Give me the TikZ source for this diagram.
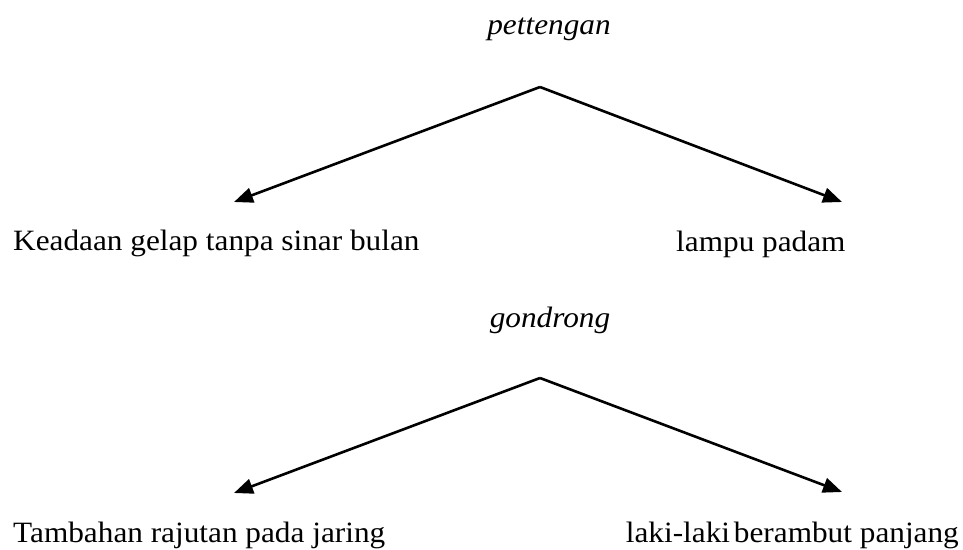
\documentclass[tikz,border=0pt]{standalone}
\usepackage{fontspec}
\setmainfont{Liberation Serif}[FakeStretch=1.06]
\usetikzlibrary{arrows.meta}
\tikzset{
  x=1pt, y=1pt,
  label text/.style={inner sep=0pt, font=\fontsize{29.5}{34}\selectfont},
  head text/.style={inner sep=0pt, font=\fontsize{29.5}{34}\selectfont\itshape, anchor=base},
  branch/.style={line width=2.6pt, -{Triangle[length=19pt,width=15pt]}}
}
\begin{document}
\begin{tikzpicture}
\useasboundingbox (0,0) rectangle (963,549);

% first word and its two meanings
\node[head text] (h1) at (549,514) {pettengan};
\coordinate (a1) at (540,462);
\coordinate (l1) at (234,347);
\coordinate (r1) at (842,347);
\node[label text, anchor=base west] (m1) at (13,298) {Keadaan gelap tanpa sinar bulan};
\node[label text, anchor=base west] (n1) at (676,297) {lampu padam};
\draw[branch] (a1) -- (l1);
\draw[branch] (a1) -- (r1);

% second word and its two meanings
\node[head text] (h2) at (550,221) {gondrong};
\coordinate (a2) at (540,171);
\coordinate (l2) at (234,56);
\coordinate (r2) at (842,57);
\node[label text, anchor=base west] (m2) at (13,7) {Tambahan rajutan pada jaring};
\node[label text, anchor=base east] (n2) at (959,7) {laki-laki\hspace{-4pt} berambut panjang};
\draw[branch] (a2) -- (l2);
\draw[branch] (a2) -- (r2);
\end{tikzpicture}
\end{document}
